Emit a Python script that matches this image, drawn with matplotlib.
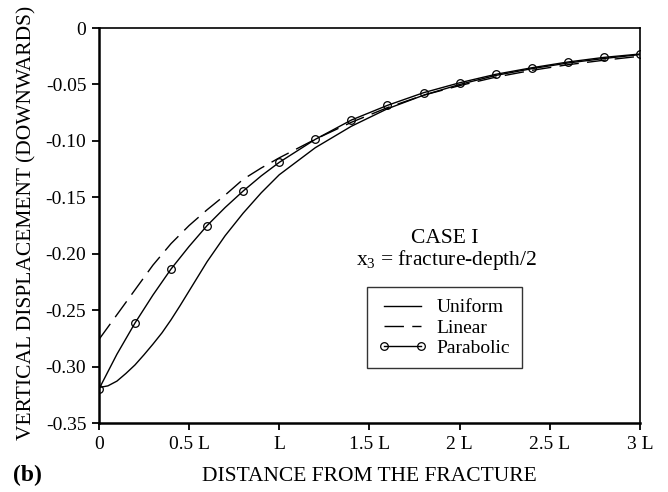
"""Vertical displacement vs distance from the fracture, case I (panel b)."""

import numpy as np
import matplotlib
matplotlib.use("Agg")
import matplotlib.pyplot as plt
from matplotlib.lines import Line2D

plt.rcParams["font.family"] = ["Liberation Serif", "DejaVu Serif"]
plt.rcParams["mathtext.fontset"] = "stix"

# distance in units of L
x_uniform = [0, 0.05, 0.1, 0.15, 0.2, 0.25, 0.3, 0.35, 0.4, 0.45, 0.5, 0.6,
             0.7, 0.8, 0.9, 1.0, 1.2, 1.4, 1.6, 1.8, 2.0, 2.2, 2.4, 2.6,
             2.8, 3.0]
y_uniform = [-0.3185, -0.317, -0.3128, -0.306, -0.2985, -0.2895, -0.280,
             -0.270, -0.2585, -0.246, -0.233, -0.207, -0.184, -0.164, -0.146,
             -0.130, -0.106, -0.087, -0.0715, -0.0595, -0.050, -0.042,
             -0.036, -0.031, -0.027, -0.0235]

x_linear = [0, 0.1, 0.2, 0.3, 0.4, 0.5, 0.6, 0.7, 0.8, 0.9, 1.0,
            1.2, 1.4, 1.6, 1.8, 2.0, 2.2, 2.4, 2.6, 2.8, 3.0]
y_linear = [-0.276, -0.254, -0.232, -0.210, -0.191, -0.175, -0.161, -0.148,
            -0.134, -0.124, -0.115, -0.0985, -0.0835, -0.0705, -0.0595,
            -0.051, -0.0435, -0.0375, -0.0325, -0.0285, -0.025]

x_parabolic = [0, 0.1, 0.2, 0.3, 0.4, 0.5, 0.6, 0.7, 0.8, 0.9, 1.0,
               1.2, 1.4, 1.6, 1.8, 2.0, 2.2, 2.4, 2.6, 2.8, 3.0]
y_parabolic = [-0.320, -0.289, -0.2614, -0.2365, -0.2135, -0.1935, -0.175,
               -0.159, -0.1444, -0.131, -0.119, -0.0986, -0.0815, -0.0685,
               -0.0573, -0.0485, -0.041, -0.0352, -0.0301, -0.026, -0.023]
# markers only at every 0.2 L
parabolic_marks = [0, 2, 4, 6, 8, 10, 11, 12, 13, 14, 15, 16, 17, 18, 19, 20]

x_ticks = [0, 0.5, 1.0, 1.5, 2.0, 2.5, 3.0]
x_ticklabels = ["0", "0.5 L", "L", "1.5 L", "2 L", "2.5 L", "3 L"]
y_ticks = [0, -0.05, -0.10, -0.15, -0.20, -0.25, -0.30, -0.35]
y_ticklabels = ["0", "-0.05", "-0.10", "-0.15", "-0.20", "-0.25", "-0.30", "-0.35"]

series_labels = ["Uniform", "Linear", "Parabolic"]


def main():
    fig = plt.figure(figsize=(6.68, 4.92), dpi=100)
    ax = fig.add_axes([0.148, 0.140, 0.810, 0.803])

    ax.plot(x_uniform, y_uniform, color="black", linewidth=1.0)
    ax.plot(x_linear, y_linear, color="black", linewidth=1.0, dashes=(14, 6))
    ax.plot(x_parabolic, y_parabolic, color="black", linewidth=1.0,
            marker="o", markersize=5.5, markerfacecolor="none",
            markeredgewidth=0.9, markevery=parabolic_marks)

    ax.set_xlim(0, 3.0)
    ax.set_ylim(-0.35, 0)
    ax.set_xticks(x_ticks)
    ax.set_xticklabels(x_ticklabels)
    ax.set_yticks(y_ticks)
    ax.set_yticklabels(y_ticklabels)
    ax.tick_params(direction="out", length=5, width=1.3, labelsize=14,
                   colors="black", pad=4)

    for side in ["left", "bottom"]:
        ax.spines[side].set_linewidth(1.8)
    for side in ["top", "right"]:
        ax.spines[side].set_linewidth(1.2)

    ax.set_ylabel("VERTICAL DISPLACEMENT (DOWNWARDS)", fontsize=15.5)
    ax.yaxis.set_label_coords(-0.116, 0.506)
    ax.set_xlabel("DISTANCE FROM THE FRACTURE", fontsize=15.5)
    ax.xaxis.set_label_coords(0.5, -0.112)

    ax.text(0.640, 0.455, "CASE I", transform=ax.transAxes, fontsize=15.5,
            ha="center", va="baseline")
    ax.text(0.643, 0.400, r"$\mathregular{x_3}$ = fracture-depth/2",
            transform=ax.transAxes, fontsize=15.5, ha="center",
            va="baseline")

    # proxy handles so the legend marker is not affected by markevery
    handles = [
        Line2D([], [], color="black", linewidth=1.0),
        Line2D([], [], color="black", linewidth=1.0, dashes=(14, 6)),
        Line2D([], [], color="black", linewidth=1.0, marker="o",
               markersize=5.5, markerfacecolor="none", markeredgewidth=0.9),
    ]
    leg = ax.legend(handles, series_labels, loc="upper left",
                    bbox_to_anchor=(0.495, 0.344), fontsize=14, numpoints=2,
                    frameon=True, fancybox=False, handlelength=2.5,
                    handletextpad=0.5, labelspacing=0.13, borderpad=0.6,
                    borderaxespad=0)
    leg.get_frame().set_edgecolor("black")
    leg.get_frame().set_linewidth(1.0)

    fig.text(0.019, 0.033, "(b)", fontsize=17, fontweight="bold",
             ha="left", va="center")

    fig.savefig("out.png", dpi=100)


if __name__ == "__main__":
    main()
